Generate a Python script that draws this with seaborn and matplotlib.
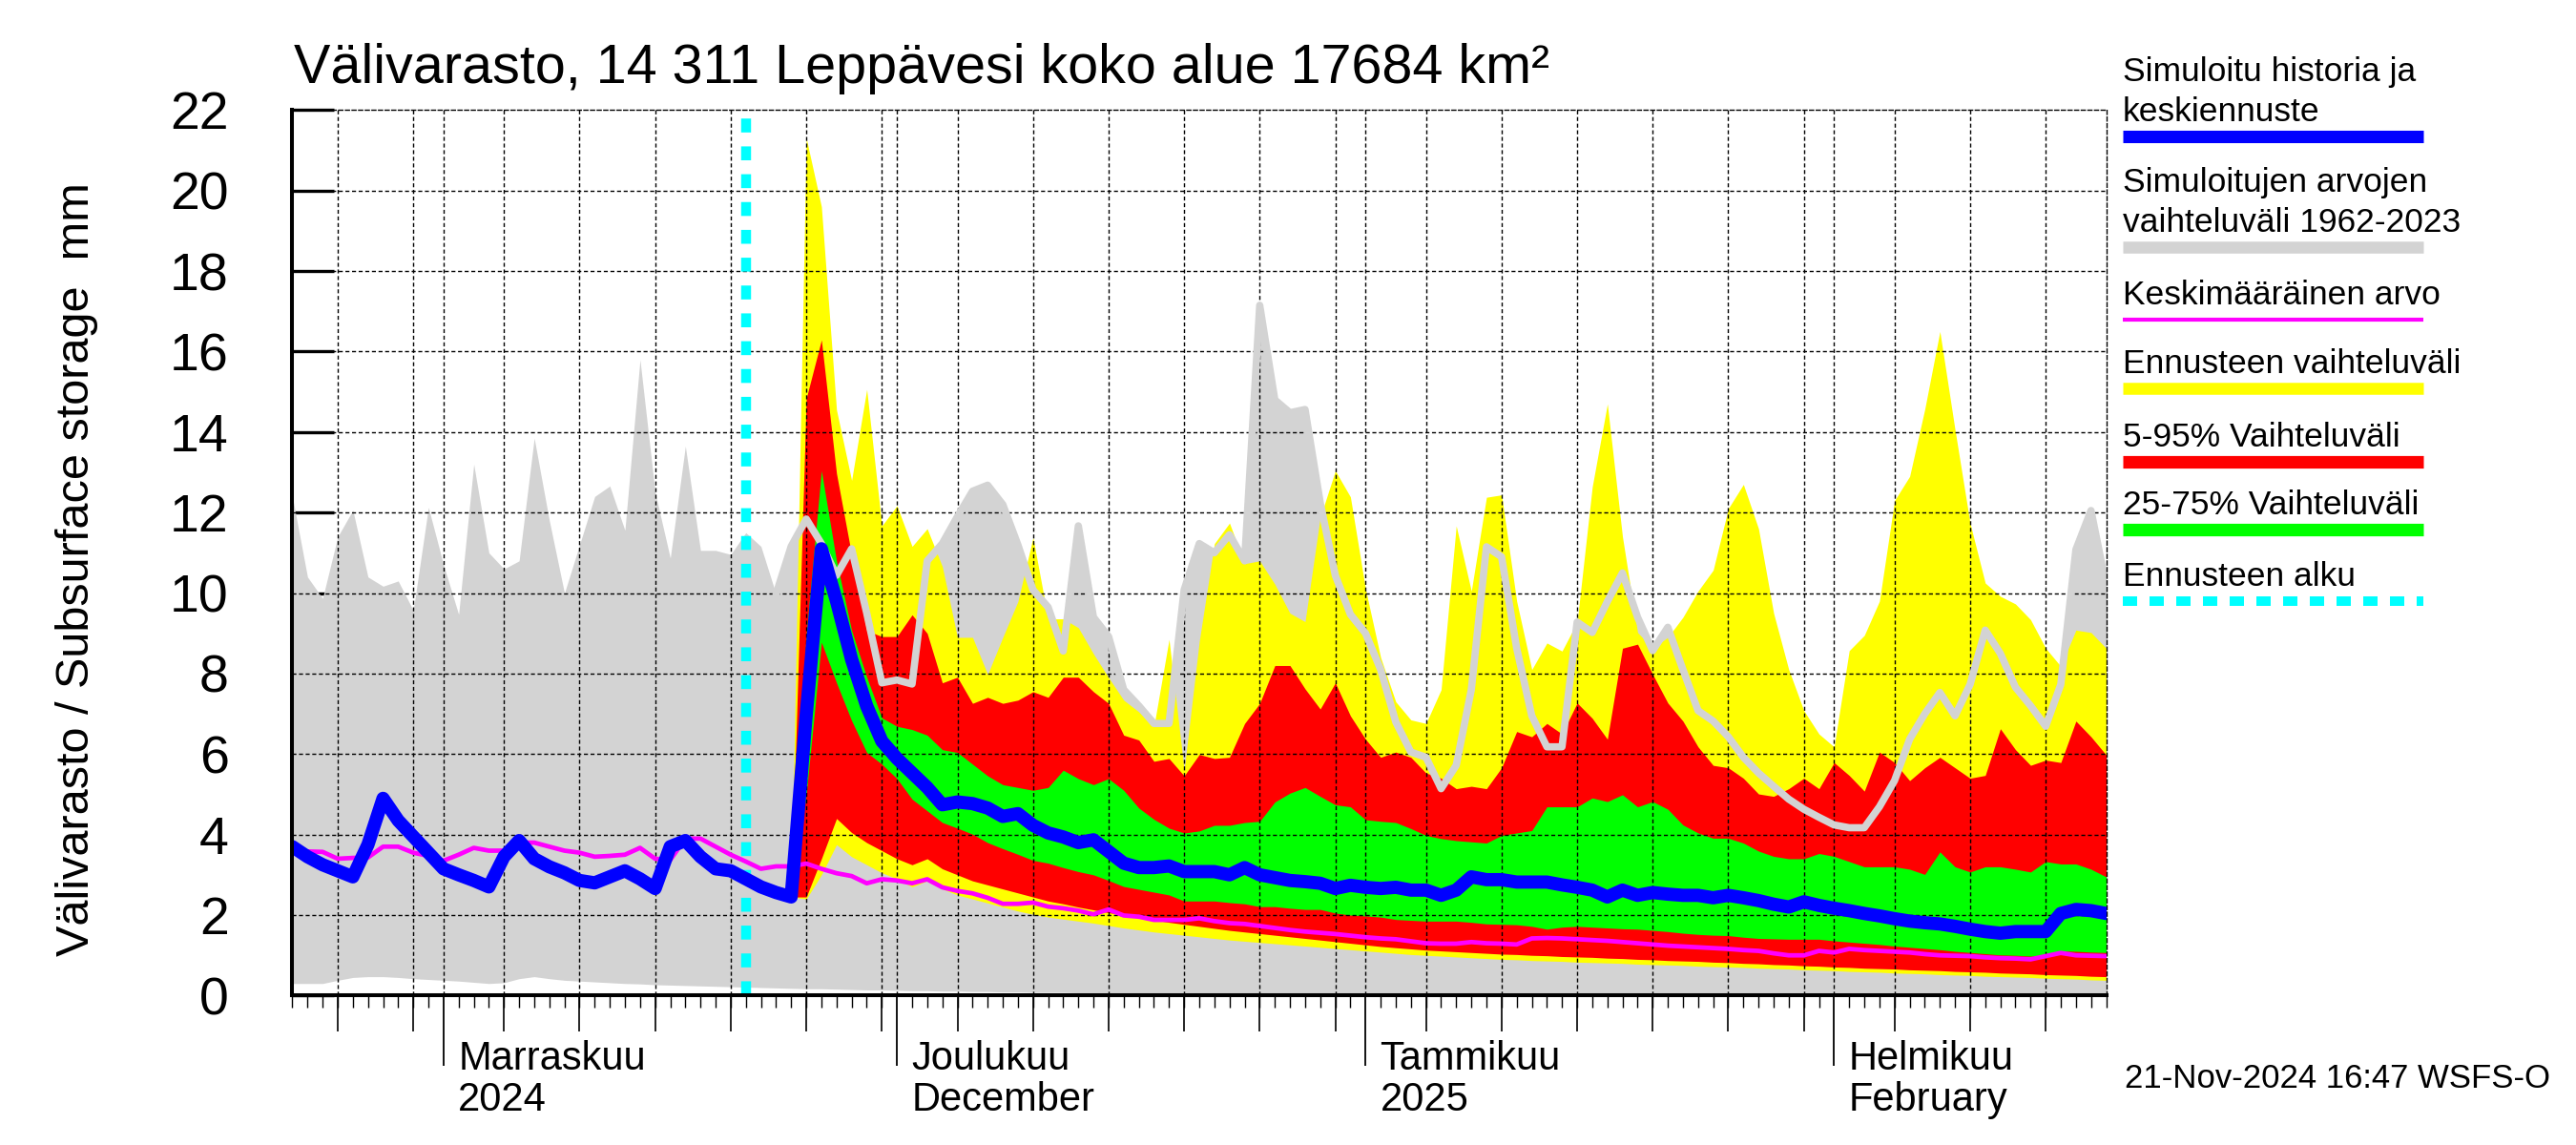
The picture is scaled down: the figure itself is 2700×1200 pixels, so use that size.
import numpy as np
import pandas as pd
import matplotlib
matplotlib.use('Agg')
import matplotlib.pyplot as plt
import matplotlib.dates as mdates
from matplotlib.lines import Line2D
from matplotlib.ticker import MultipleLocator, NullFormatter
import seaborn as sns

# Daily values, 22 Oct 2024 - 19 Feb 2025
start_day = '2024-10-22'
end_day = '2025-02-19'
forecast_start = '2024-11-21'
band_start = '2024-11-24'

# range of simulated values 1962-2023 (max / min)
hist_max = [12.4, 10.4, 9.87, 11.4, 12.06, 10.4, 10.17, 10.3, 9.57, 12.13,
            10.7, 9.47, 13.2, 11.0, 10.6, 10.8, 13.85, 11.8, 10.0, 11.2,
            12.4, 12.66, 11.56, 15.8, 12.5, 10.87, 13.65, 11.06, 11.06, 10.96,
            11.5, 11.16, 9.97, 11.16, 11.84, 11.23, 10.44, 11.1, 9.5, 7.77,
            7.84, 7.74, 10.8, 11.23, 11.9, 12.53, 12.68, 12.2, 11.2, 10.08,
            9.65, 8.56, 11.67, 9.4, 8.92, 7.6, 7.2, 6.76, 6.76, 10.08,
            11.23, 11.0, 11.45, 10.8, 17.15, 14.8, 14.48, 14.56, 12.25, 10.44,
            9.47, 9.0, 8.1, 6.8, 6.05, 5.92, 5.14, 5.72, 7.6, 11.15,
            10.9, 8.63, 6.95, 6.18, 6.18, 9.28, 9.02, 9.79, 10.5, 9.4,
            8.57, 9.15, 8.1, 7.08, 6.82, 6.43, 5.92, 5.53, 5.2, 4.88,
            4.63, 4.43, 4.24, 4.17, 4.17, 4.69, 5.34, 6.37, 7.0, 7.53,
            6.95, 7.73, 9.08, 8.5, 7.66, 7.2, 6.69, 7.73, 11.08, 12.05,
            10.18]
hist_min = [0.30, 0.30, 0.30, 0.38, 0.45, 0.47, 0.47, 0.45, 0.42, 0.40,
            0.38, 0.36, 0.33, 0.30, 0.32, 0.42, 0.47, 0.42, 0.38, 0.36,
            0.34, 0.32, 0.30, 0.29, 0.27, 0.26, 0.25, 0.24, 0.23, 0.22,
            0.21, 0.20, 0.19, 0.18, 0.17, 0.17, 0.16, 0.15, 0.14, 0.14,
            0.13, 0.12, 0.12, 0.11, 0.11, 0.10, 0.10, 0.09, 0.09, 0.08,
            0.08, 0.08, 0.07, 0.07, 0.07, 0.06, 0.06, 0.06, 0.05, 0.05,
            0.05, 0.05, 0.05, 0.05, 0.04, 0.04, 0.04, 0.04, 0.04, 0.04,
            0.04, 0.04, 0.03, 0.03, 0.03, 0.03, 0.03, 0.03, 0.03, 0.03,
            0.03, 0.03, 0.03, 0.03, 0.03, 0.03, 0.03, 0.03, 0.03, 0.03,
            0.02, 0.02, 0.02, 0.02, 0.02, 0.02, 0.02, 0.02, 0.02, 0.02,
            0.02, 0.02, 0.02, 0.02, 0.02, 0.02, 0.02, 0.02, 0.02, 0.02,
            0.02, 0.02, 0.02, 0.02, 0.02, 0.02, 0.02, 0.02, 0.02, 0.02,
            0.02]
# mean value
mean_val = [3.60, 3.58, 3.57, 3.40, 3.42, 3.43, 3.70, 3.70, 3.55, 3.47,
            3.35, 3.50, 3.67, 3.60, 3.60, 3.80, 3.80, 3.70, 3.60, 3.55,
            3.45, 3.47, 3.50, 3.67, 3.40, 3.37, 3.90, 3.90, 3.70, 3.50,
            3.33, 3.15, 3.21, 3.21, 3.28, 3.15, 3.04, 2.97, 2.79, 2.89,
            2.86, 2.79, 2.89, 2.69, 2.60, 2.54, 2.43, 2.28, 2.28, 2.31,
            2.21, 2.17, 2.11, 2.02, 2.14, 1.99, 1.96, 1.88, 1.88, 1.88,
            1.92, 1.85, 1.80, 1.78, 1.73, 1.68, 1.63, 1.59, 1.56, 1.53,
            1.49, 1.45, 1.42, 1.40, 1.35, 1.30, 1.29, 1.29, 1.33, 1.30,
            1.29, 1.27, 1.42, 1.43, 1.42, 1.40, 1.38, 1.36, 1.33, 1.30,
            1.27, 1.24, 1.22, 1.20, 1.18, 1.16, 1.13, 1.11, 1.05, 1.00,
            1.00, 1.11, 1.07, 1.16, 1.13, 1.11, 1.09, 1.07, 1.03, 1.00,
            0.99, 0.98, 0.95, 0.93, 0.92, 0.90, 0.98, 1.06, 1.00, 0.99,
            0.98]
# simulated history + median forecast
median_val = [3.70, 3.45, 3.25, 3.10, 2.95, 3.75, 4.90, 4.35, 3.95, 3.55,
              3.15, 3.00, 2.86, 2.70, 3.45, 3.85, 3.40, 3.20, 3.05, 2.86,
              2.80, 2.95, 3.10, 2.90, 2.66, 3.70, 3.85, 3.45, 3.15, 3.10,
              2.90, 2.70, 2.56, 2.45, 7.00, 11.10, 9.80, 8.35, 7.19, 6.32,
              5.89, 5.53, 5.17, 4.74, 4.81, 4.77, 4.66, 4.45, 4.52, 4.23,
              4.04, 3.94, 3.80, 3.87, 3.58, 3.29, 3.18, 3.18, 3.22, 3.08,
              3.08, 3.08, 3.00, 3.18, 3.00, 2.93, 2.86, 2.83, 2.79, 2.66,
              2.74, 2.69, 2.66, 2.69, 2.62, 2.62, 2.49, 2.62, 2.95, 2.88,
              2.88, 2.82, 2.82, 2.82, 2.75, 2.69, 2.62, 2.45, 2.62, 2.49,
              2.56, 2.52, 2.49, 2.49, 2.43, 2.49, 2.43, 2.36, 2.27, 2.20,
              2.33, 2.24, 2.17, 2.11, 2.04, 1.98, 1.91, 1.85, 1.81, 1.78,
              1.72, 1.65, 1.59, 1.55, 1.59, 1.59, 1.59, 2.04, 2.14, 2.11,
              2.04]

# forecast ensemble, 24 Nov 2024 - 19 Feb 2025
ens_max = [2.45, 21.30, 19.60, 14.55, 12.80, 15.06, 11.67, 12.17, 11.16, 11.60,
           10.66, 8.90, 8.90, 7.98, 8.90, 9.79, 11.38, 9.36, 9.36, 9.14,
           8.49, 7.90, 7.34, 7.05, 6.69, 8.85, 5.60, 8.80, 11.23, 11.74,
           10.73, 10.80, 10.22, 9.50, 9.29, 11.88, 13.04, 12.39, 10.10, 8.40,
           7.30, 6.85, 6.76, 7.60, 11.67, 10.05, 12.38, 12.44, 9.80, 8.10,
           8.76, 8.56, 9.28, 12.64, 14.70, 11.40, 9.02, 8.63, 8.90, 9.40,
           10.05, 10.57, 12.10, 12.70, 11.60, 9.50, 8.10, 7.08, 6.50, 6.18,
           8.57, 8.95, 9.80, 12.30, 12.90, 14.57, 16.50, 14.06, 11.73, 10.25,
           9.92, 9.73, 9.34, 8.63, 8.18, 9.08, 9.02, 8.63]
p95 = [2.45, 14.84, 16.29, 12.97, 10.95, 9.07, 8.92, 8.92, 9.46, 9.00,
       7.77, 7.91, 7.26, 7.41, 7.26, 7.34, 7.55, 7.41, 7.91, 7.91,
       7.55, 7.26, 6.47, 6.35, 5.82, 5.89, 5.46, 5.99, 5.89, 5.92,
       6.76, 7.26, 8.20, 8.20, 7.62, 7.12, 7.77, 6.95, 6.37, 5.92,
       6.05, 5.92, 5.53, 5.40, 5.14, 5.20, 5.14, 5.66, 6.56, 6.43,
       6.76, 6.50, 7.27, 6.89, 6.37, 8.63, 8.73, 7.98, 7.27, 6.82,
       6.18, 5.72, 5.66, 5.40, 5.01, 4.95, 5.14, 5.40, 5.14, 5.79,
       5.47, 5.08, 6.05, 5.79, 5.34, 5.66, 5.92, 5.66, 5.40, 5.47,
       6.63, 6.11, 5.72, 5.85, 5.79, 6.82, 6.43, 5.98]
p75 = [2.45, 9.00, 13.04, 10.80, 9.07, 7.91, 6.90, 6.69, 6.61, 6.47,
       6.11, 6.04, 5.75, 5.46, 5.24, 5.17, 5.10, 5.17, 5.60, 5.39,
       5.24, 5.39, 5.10, 4.66, 4.38, 4.16, 4.04, 4.09, 4.23, 4.23,
       4.30, 4.33, 4.81, 5.03, 5.17, 4.95, 4.74, 4.69, 4.37, 4.33,
       4.30, 4.15, 3.98, 3.90, 3.85, 3.82, 3.79, 3.98, 4.04, 4.10,
       4.69, 4.69, 4.69, 4.91, 4.82, 4.99, 4.69, 4.82, 4.63, 4.24,
       4.04, 3.91, 3.91, 3.79, 3.59, 3.46, 3.40, 3.40, 3.53, 3.46,
       3.33, 3.20, 3.20, 3.20, 3.14, 3.01, 3.57, 3.20, 3.07, 3.20,
       3.20, 3.14, 3.07, 3.33, 3.27, 3.27, 3.14, 2.95]
p25 = [2.45, 5.00, 8.78, 7.77, 6.83, 6.04, 5.75, 5.39, 4.88, 4.59,
       4.30, 4.16, 4.01, 3.80, 3.65, 3.51, 3.36, 3.29, 3.18, 3.08,
       3.00, 2.86, 2.71, 2.64, 2.57, 2.50, 2.35, 2.35, 2.35, 2.31,
       2.28, 2.21, 2.21, 2.17, 2.14, 2.14, 2.05, 2.00, 1.98, 1.95,
       1.89, 1.87, 1.85, 1.85, 1.85, 1.82, 1.78, 1.77, 1.76, 1.72,
       1.65, 1.70, 1.72, 1.70, 1.68, 1.66, 1.65, 1.62, 1.59, 1.55,
       1.52, 1.50, 1.49, 1.45, 1.42, 1.41, 1.40, 1.40, 1.40, 1.36,
       1.33, 1.30, 1.27, 1.23, 1.20, 1.17, 1.14, 1.10, 1.07, 1.04,
       1.01, 1.00, 0.98, 1.01, 1.11, 1.10, 1.08, 1.07]
p05 = [2.45, 2.45, 3.40, 4.40, 4.05, 3.80, 3.60, 3.40, 3.25, 3.40,
       3.15, 3.00, 2.85, 2.75, 2.65, 2.55, 2.45, 2.35, 2.28, 2.20,
       2.13, 2.06, 2.00, 1.94, 1.88, 1.82, 1.77, 1.72, 1.67, 1.62,
       1.58, 1.54, 1.50, 1.46, 1.42, 1.38, 1.34, 1.30, 1.26, 1.22,
       1.19, 1.16, 1.13, 1.11, 1.09, 1.07, 1.05, 1.03, 1.02, 1.00,
       0.99, 0.97, 0.96, 0.95, 0.93, 0.92, 0.90, 0.89, 0.87, 0.86,
       0.85, 0.83, 0.82, 0.80, 0.79, 0.77, 0.76, 0.74, 0.73, 0.71,
       0.70, 0.68, 0.67, 0.66, 0.64, 0.63, 0.62, 0.60, 0.59, 0.58,
       0.56, 0.55, 0.54, 0.52, 0.51, 0.50, 0.48, 0.47]
ens_min = [2.45, 2.40, 3.00, 3.75, 3.45, 3.25, 3.05, 2.90, 2.70, 2.85,
           2.65, 2.50, 2.40, 2.30, 2.20, 2.10, 2.02, 1.95, 1.90, 1.85,
           1.80, 1.74, 1.68, 1.63, 1.58, 1.54, 1.50, 1.46, 1.42, 1.38,
           1.35, 1.32, 1.29, 1.26, 1.23, 1.20, 1.17, 1.14, 1.11, 1.08,
           1.05, 1.02, 1.00, 0.98, 0.96, 0.94, 0.92, 0.90, 0.89, 0.87,
           0.86, 0.85, 0.83, 0.82, 0.81, 0.80, 0.78, 0.77, 0.76, 0.75,
           0.73, 0.72, 0.71, 0.70, 0.68, 0.67, 0.66, 0.64, 0.63, 0.62,
           0.60, 0.59, 0.58, 0.56, 0.55, 0.54, 0.52, 0.51, 0.50, 0.48,
           0.47, 0.46, 0.45, 0.43, 0.42, 0.41, 0.39, 0.38]

month_starts = ['2024-11-01', '2024-12-01', '2025-01-01', '2025-02-01']
month_fi = ['Marraskuu', 'Joulukuu', 'Tammikuu', 'Helmikuu']
month_sub = ['2024', 'December', '2025', 'February']

title = 'Välivarasto, 14 311 Leppävesi koko alue 17684 km²'
ylabel = 'Välivarasto / Subsurface storage  mm'
stamp = '21-Nov-2024 16:47 WSFS-O'

GRAY = '#d3d3d3'
YELLOW = '#ffff00'
RED = '#ff0000'
GREEN = '#00ff00'
BLUE = '#0000ff'
MAGENTA = '#ff00ff'
CYAN = '#00ffff'

sns.set_style('white')
plt.rcParams['font.family'] = ['Liberation Sans', 'DejaVu Sans']
plt.rcParams.update({'axes.edgecolor': 'black', 'text.color': 'black',
                     'xtick.color': 'black', 'ytick.color': 'black'})

days = pd.date_range(start_day, end_day, freq='D')
fdays = pd.date_range(band_start, end_day, freq='D')

fig = plt.figure(figsize=(27, 12), dpi=100)
ax = fig.add_axes([0.1135, 0.1305, 0.7041, 0.7734])

# areas
ax.fill_between(days, hist_min, hist_max, color=GRAY, lw=0, zorder=1)
ax.fill_between(fdays, ens_min, ens_max, color=YELLOW, lw=0, zorder=1.1)
ax.fill_between(fdays, p05, p95, color=RED, lw=0, zorder=1.2)
ax.fill_between(fdays, p25, p75, color=GREEN, lw=0, zorder=1.3)

# dashed grid on top of the areas
grid_ls = (0, (3, 2))
for y in range(2, 22, 2):
    ax.axhline(y, color='black', lw=1, ls=grid_ls, zorder=2)
for d in days[1:-1]:
    if d.day in (1, 5, 10, 15, 20, 25, 30):
        ax.axvline(d, color='black', lw=1, ls=grid_ls, zorder=2)

# lines
sns.lineplot(x=days[32:], y=hist_max[32:], ax=ax, color=GRAY, linewidth=5.5,
             legend=False, zorder=2.5)
sns.lineplot(x=days, y=mean_val, ax=ax, color=MAGENTA, linewidth=3.4,
             legend=False, zorder=3)
ax.axvline(pd.Timestamp(forecast_start), color=CYAN, lw=7.5,
           ls=(0, (1.4, 1.4)), zorder=3.5)
sns.lineplot(x=days, y=median_val, ax=ax, color=BLUE, linewidth=10,
             legend=False, zorder=4)

ax.set_xlim(days[0], days[-1])
ax.set_ylim(0, 22)
ax.set_xlabel('')
ax.set_ylabel('')
ax.set_axisbelow(True)

# y axis
ax.yaxis.set_major_locator(MultipleLocator(2))
ax.tick_params(axis='y', direction='in', length=32, width=2.4,
               labelsize=40, pad=48, left=True)

# x axis: months, 5-day and daily ticks
ax.xaxis.set_major_locator(mdates.MonthLocator())
ax.xaxis.set_minor_locator(mdates.DayLocator())
ax.xaxis.set_major_formatter(NullFormatter())
ax.tick_params(axis='x', which='major', direction='out', length=53,
               width=1.3, bottom=True)
ax.tick_params(axis='x', which='minor', direction='out', length=9,
               width=1.0, bottom=True)
sec = ax.secondary_xaxis('bottom')
sec.xaxis.set_major_locator(mdates.DayLocator(bymonthday=[5, 10, 15, 20, 25, 30]))
sec.xaxis.set_major_formatter(NullFormatter())
sec.tick_params(axis='x', direction='out', length=27, width=1.2)
sec.spines['bottom'].set_visible(False)

for s in ['top', 'right']:
    ax.spines[s].set_linestyle(grid_ls)
    ax.spines[s].set_linewidth(1)
for s in ['left', 'bottom']:
    ax.spines[s].set_linewidth(2.9)
    ax.spines[s].set_zorder(5)

for m, top, sub in zip(month_starts, month_fi, month_sub):
    for text, dy in ((top, -56), (sub, -87)):
        ax.annotate(text, xy=(pd.Timestamp(m), 0),
                    xycoords=('data', 'axes fraction'),
                    xytext=(11, dy), textcoords='offset points',
                    ha='left', va='baseline', fontsize=30,
                    annotation_clip=False)

fig.text(0.114, 0.9275, title, fontsize=41.4, va='baseline', ha='left')
fig.text(0.030, 0.5025, ylabel, fontsize=35, rotation=90,
         ha='center', va='center')
fig.text(0.990, 0.05, stamp, fontsize=25, ha='right', va='baseline')

# legend on the right
legend_rows = [
    (['Simuloitu historia ja', 'keskiennuste'], BLUE, 9.4, '-'),
    (['Simuloitujen arvojen', 'vaihteluväli 1962-2023'], GRAY, 9.0, '-'),
    (['Keskimääräinen arvo'], MAGENTA, 3.0, '-'),
    (['Ennusteen vaihteluväli'], YELLOW, 9.0, '-'),
    (['5-95% Vaihteluväli'], RED, 9.5, '-'),
    (['25-75% Vaihteluväli'], GREEN, 9.5, '-'),
    (['Ennusteen alku'], CYAN, 7.2, (0, (1.5, 1.3))),
]
bar_rows_px = [143, 259, 335, 407, 484, 555, 630]
H = 1200.0
x0, x1 = 0.824, 0.9407
for (lines, color, lw, ls), ypx in zip(legend_rows, bar_rows_px):
    fig.add_artist(Line2D([x0, x1], [1 - ypx / H, 1 - ypx / H],
                          transform=fig.transFigure, color=color, lw=lw,
                          ls=ls, solid_capstyle='butt', dash_capstyle='butt'))
    for i, line in enumerate(reversed(lines)):
        base = ypx - 16 - 42 * i
        fig.text(x0, 1 - base / H, line, fontsize=25.5, ha='left',
                 va='baseline')

fig.savefig('out.png', dpi=100)
